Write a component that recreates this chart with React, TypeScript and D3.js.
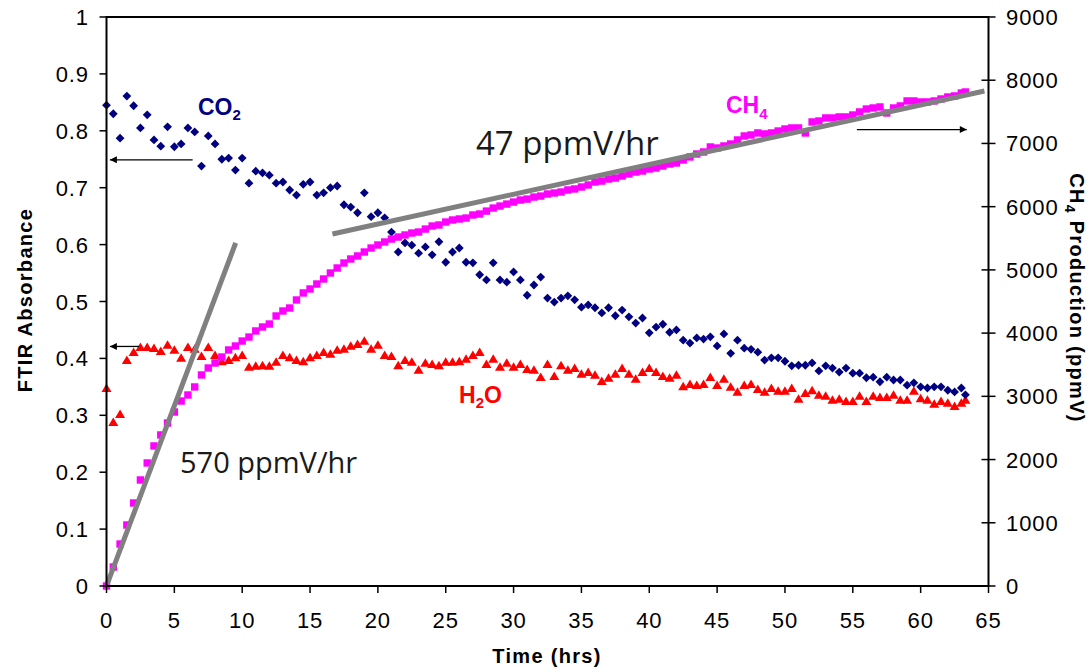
import React from "react";
import * as d3 from "d3";

// Sampling times (hrs)
const timeHrs = [
  0, 0.5, 1, 1.5, 2, 2.5, 3, 3.5, 4, 4.5,
  5, 5.5, 6, 6.5, 7, 7.5, 8, 8.5, 9, 9.5,
  10, 10.5, 11, 11.5, 12, 12.5, 13, 13.5, 14, 14.5,
  15, 15.5, 16, 16.5, 17, 17.5, 18, 18.5, 19, 19.5,
  20, 20.5, 21, 21.5, 22, 22.5, 23, 23.5, 24, 24.5,
  25, 25.5, 26, 26.5, 27, 27.5, 28, 28.5, 29, 29.5,
  30, 30.5, 31, 31.5, 32, 32.5, 33, 33.5, 34, 34.5,
  35, 35.5, 36, 36.5, 37, 37.5, 38, 38.5, 39, 39.5,
  40, 40.5, 41, 41.5, 42, 42.5, 43, 43.5, 44, 44.5,
  45, 45.5, 46, 46.5, 47, 47.5, 48, 48.5, 49, 49.5,
  50, 50.5, 51, 51.5, 52, 52.5, 53, 53.5, 54, 54.5,
  55, 55.5, 56, 56.5, 57, 57.5, 58, 58.5, 59, 59.5,
  60, 60.5, 61, 61.5, 62, 62.5, 63, 63.3,
];

// CO2 FTIR absorbance (left axis)
const co2Abs = [
  0.845, 0.830, 0.787, 0.861, 0.844, 0.805, 0.828, 0.784, 0.773, 0.807,
  0.772, 0.777, 0.805, 0.798, 0.738, 0.791, 0.777, 0.750, 0.752, 0.731,
  0.752, 0.708, 0.729, 0.726, 0.722, 0.708, 0.710, 0.696, 0.687, 0.706,
  0.710, 0.687, 0.691, 0.700, 0.703, 0.670, 0.666, 0.656, 0.691, 0.649,
  0.656, 0.647, 0.622, 0.587, 0.603, 0.599, 0.585, 0.596, 0.582, 0.605,
  0.569, 0.587, 0.594, 0.569, 0.568, 0.547, 0.538, 0.568, 0.538, 0.534,
  0.552, 0.538, 0.511, 0.529, 0.543, 0.506, 0.499, 0.506, 0.510, 0.503,
  0.490, 0.494, 0.489, 0.480, 0.489, 0.475, 0.485, 0.473, 0.462, 0.471,
  0.445, 0.455, 0.460, 0.446, 0.450, 0.432, 0.427, 0.436, 0.434, 0.438,
  0.422, 0.443, 0.409, 0.432, 0.418, 0.416, 0.411, 0.397, 0.401, 0.401,
  0.395, 0.387, 0.388, 0.388, 0.392, 0.378, 0.387, 0.383, 0.376, 0.383,
  0.374, 0.374, 0.366, 0.367, 0.359, 0.367, 0.362, 0.362, 0.353, 0.357,
  0.350, 0.348, 0.350, 0.350, 0.344, 0.341, 0.348, 0.336,
];

// H2O FTIR absorbance (left axis)
const h2oAbs = [
  0.348, 0.288, 0.302, 0.397, 0.411, 0.420, 0.420, 0.418, 0.413, 0.424,
  0.415, 0.401, 0.420, 0.417, 0.404, 0.420, 0.406, 0.395, 0.397, 0.402,
  0.406, 0.385, 0.387, 0.388, 0.387, 0.394, 0.406, 0.402, 0.397, 0.395,
  0.402, 0.406, 0.411, 0.408, 0.415, 0.417, 0.422, 0.425, 0.431, 0.417,
  0.424, 0.406, 0.404, 0.388, 0.397, 0.394, 0.380, 0.392, 0.390, 0.388,
  0.394, 0.394, 0.395, 0.399, 0.406, 0.411, 0.390, 0.399, 0.385, 0.392,
  0.385, 0.390, 0.381, 0.380, 0.367, 0.390, 0.369, 0.388, 0.380, 0.383,
  0.373, 0.376, 0.371, 0.360, 0.366, 0.373, 0.383, 0.373, 0.364, 0.376,
  0.383, 0.376, 0.369, 0.366, 0.371, 0.351, 0.355, 0.353, 0.355, 0.367,
  0.353, 0.364, 0.350, 0.341, 0.353, 0.355, 0.346, 0.341, 0.348, 0.343,
  0.343, 0.348, 0.329, 0.339, 0.344, 0.336, 0.334, 0.327, 0.329, 0.325,
  0.325, 0.334, 0.325, 0.334, 0.332, 0.332, 0.336, 0.327, 0.327, 0.343,
  0.330, 0.327, 0.320, 0.325, 0.322, 0.316, 0.322, 0.327,
];

// CH4 production, ppmV (right axis)
const ch4Ppm = [
  0, 300, 664, 965, 1313, 1677, 1946, 2215, 2389, 2578,
  2752, 2926, 3021, 3148, 3338, 3448, 3527, 3622, 3733, 3796,
  3875, 3938, 4034, 4097, 4144, 4271, 4350, 4397, 4524, 4635,
  4698, 4777, 4856, 4951, 5030, 5109, 5172, 5220, 5283, 5346,
  5394, 5441, 5488, 5520, 5552, 5583, 5599, 5646, 5694, 5710,
  5757, 5789, 5805, 5820, 5868, 5884, 5930, 5978, 6010, 6041,
  6073, 6105, 6120, 6152, 6168, 6200, 6216, 6232, 6264, 6280,
  6311, 6343, 6390, 6405, 6437, 6453, 6485, 6517, 6548, 6564,
  6596, 6612, 6643, 6675, 6691, 6738, 6786, 6833, 6865, 6944,
  6928, 6960, 6991, 7055, 7118, 7134, 7166, 7150, 7166, 7197,
  7229, 7245, 7245, 7166, 7340, 7355, 7403, 7403, 7419, 7419,
  7450, 7498, 7545, 7561, 7577, 7482, 7561, 7593, 7672, 7672,
  7656, 7656, 7672, 7703, 7735, 7751, 7798, 7814,
];

// Fitted rate lines (time hrs, ppmV)
const trend570: [number, number][] = [[0.05, 28], [9.52, 5426]];
const trend47: [number, number][] = [[16.65, 5568], [64.7, 7830]];

const xTicks = [0, 5, 10, 15, 20, 25, 30, 35, 40, 45, 50, 55, 60, 65];
const leftTicks = [0, 0.1, 0.2, 0.3, 0.4, 0.5, 0.6, 0.7, 0.8, 0.9, 1];
const leftTickLabels = ["0", "0.1", "0.2", "0.3", "0.4", "0.5", "0.6", "0.7", "0.8", "0.9", "1"];
const rightTicks = [0, 1000, 2000, 3000, 4000, 5000, 6000, 7000, 8000, 9000];

const W = 1092;
const H = 669;
const AXF = "'Liberation Sans', Arial, Helvetica, sans-serif";
const ANF = "'Open Sans', 'Noto Sans', sans-serif";

export default function App() {
  const x = d3.scaleLinear().domain([0, 65]).range([106.5, 988.5]);
  const yL = d3.scaleLinear().domain([0, 1]).range([586, 17]);
  const yR = d3.scaleLinear().domain([0, 9000]).range([586, 17]);
  const line = d3
    .line<[number, number]>()
    .x((d) => x(d[0]))
    .y((d) => yR(d[1]));

  const diamond = "M0,-4.4L4.4,0L0,4.4L-4.4,0Z";
  const triangle = "M0,-4.6L5,3.9L-5,3.9Z";
  const square = "M-3.7,-3.7H3.7V3.7H-3.7Z";

  const x0 = x(0);
  const x1 = x(65);
  const yb = yL(0);
  const yt = yL(1);

  return (
    <svg
      width={W}
      height={H}
      viewBox={`0 0 ${W} ${H}`}
      style={{ position: "absolute", left: 0, top: 0, background: "#fff" }}
    >
      <defs>
        <marker id="ah" viewBox="0 0 10 10" refX="10" refY="5" markerWidth="9" markerHeight="7" markerUnits="userSpaceOnUse" orient="auto">
          <path d="M0,0L10,5L0,10Z" fill="#000" />
        </marker>
      </defs>
      <rect width={W} height={H} fill="#fff" />

      {/* H2O */}
      <g fill="#ff0000">
        {timeHrs.map((t, i) => (
          <path key={"h" + i} d={triangle} transform={`translate(${x(t)},${yL(h2oAbs[i])})`} />
        ))}
      </g>
      {/* CO2 */}
      <g fill="#000080">
        {timeHrs.map((t, i) => (
          <path key={"c" + i} d={diamond} transform={`translate(${x(t)},${yL(co2Abs[i])})`} />
        ))}
      </g>
      {/* CH4 */}
      <g fill="#ff00ff">
        {timeHrs.map((t, i) => (
          <path key={"m" + i} d={square} transform={`translate(${x(t)},${yR(ch4Ppm[i])})`} />
        ))}
      </g>

      {/* trend lines */}
      <path d={line(trend570) || ""} stroke="#808080" strokeWidth={5} fill="none" />
      <path d={line(trend47) || ""} stroke="#808080" strokeWidth={5} fill="none" />

      {/* axes frame */}
      <line x1={x0} x2={x1} y1={yt} y2={yt} stroke="#000" strokeWidth={2} />
      <line x1={x0} x2={x0} y1={yt - 1} y2={yb + 1} stroke="#000" strokeWidth={2} />
      <line x1={x1} x2={x1} y1={yt - 1} y2={yb + 1} stroke="#000" strokeWidth={2} />
      <line x1={x0} x2={x1} y1={yb} y2={yb} stroke="#000" strokeWidth={2} />

      {/* left ticks */}
      {leftTicks.map((v, i) => (
        <g key={"lt" + i}>
          <line x1={x0 - 7} x2={x0} y1={yL(v)} y2={yL(v)} stroke="#000" strokeWidth={1.5} />
          <text x={89} y={yL(v) + 8} textAnchor="end" fontFamily={AXF} fontSize={22} letterSpacing={0.9} fill="#000">
            {leftTickLabels[i]}
          </text>
        </g>
      ))}
      {/* right ticks */}
      {rightTicks.map((v, i) => (
        <g key={"rt" + i}>
          <line x1={x1 - 7} x2={x1 + 7} y1={yR(v)} y2={yR(v)} stroke="#000" strokeWidth={1.5} />
          <text x={1006} y={yR(v) + 8} textAnchor="start" fontFamily={AXF} fontSize={22} letterSpacing={0.9} fill="#000">
            {v}
          </text>
        </g>
      ))}
      {/* x ticks */}
      {xTicks.map((v, i) => (
        <g key={"xt" + i}>
          <line x1={x(v)} x2={x(v)} y1={yb} y2={yb + 7} stroke="#000" strokeWidth={1.5} />
          <text x={x(v)} y={628} textAnchor="middle" fontFamily={AXF} fontSize={22} letterSpacing={0.9} fill="#000">
            {v}
          </text>
        </g>
      ))}

      {/* axis titles */}
      <text x={547} y={663} textAnchor="middle" fontFamily={AXF} fontWeight="bold" fontSize={20} letterSpacing={1.3} fill="#000">
        Time (hrs)
      </text>
      <text
        x={32}
        y={300}
        textAnchor="middle"
        fontFamily={AXF}
        fontWeight="bold"
        fontSize={20}
        letterSpacing={1.3}
        fill="#000"
        transform="rotate(-90,32,300)"
      >
        FTIR Absorbance
      </text>
      <text
        x={1070}
        y={298}
        textAnchor="middle"
        fontFamily={AXF}
        fontWeight="bold"
        fontSize={20}
        letterSpacing={1.3}
        fill="#000"
        transform="rotate(90,1070,298)"
      >
        CH
        <tspan fontSize={14} dy={5}>4</tspan>
        <tspan dy={-5}> Production (ppmV)</tspan>
      </text>

      {/* series labels */}
      <text x={198} y={115} fontFamily={AXF} fontWeight="bold" fontSize={23} fill="#000080">
        CO<tspan fontSize={15} dy={5}>2</tspan>
      </text>
      <text x={726} y={113} fontFamily={AXF} fontWeight="bold" fontSize={23} fill="#ff00ff">
        CH<tspan fontSize={15} dy={6}>4</tspan>
      </text>
      <text x={459} y={403} fontFamily={AXF} fontWeight="bold" fontSize={23} fill="#ff0000">
        H<tspan fontSize={15} dy={5}>2</tspan>
        <tspan dy={-5}>O</tspan>
      </text>

      {/* rate annotations */}
      <text x={180} y={473} fontFamily={ANF} fontSize={29} fill="#1a1a1a">
        570 ppmV/hr
      </text>
      <text x={476} y={155} fontFamily={ANF} fontSize={33} fill="#1a1a1a">
        47 ppmV/hr
      </text>

      {/* axis arrows */}
      <line x1={x(6.35)} x2={x(0.25)} y1={yL(0.749)} y2={yL(0.749)} stroke="#000" strokeWidth={1.3} markerEnd="url(#ah)" />
      <line x1={x(2.4)} x2={x(0.25)} y1={yL(0.421)} y2={yL(0.421)} stroke="#000" strokeWidth={1.3} markerEnd="url(#ah)" />
      <line x1={x(55.3)} x2={x(63.4)} y1={yR(7220)} y2={yR(7220)} stroke="#000" strokeWidth={1.3} markerEnd="url(#ah)" />
    </svg>
  );
}
